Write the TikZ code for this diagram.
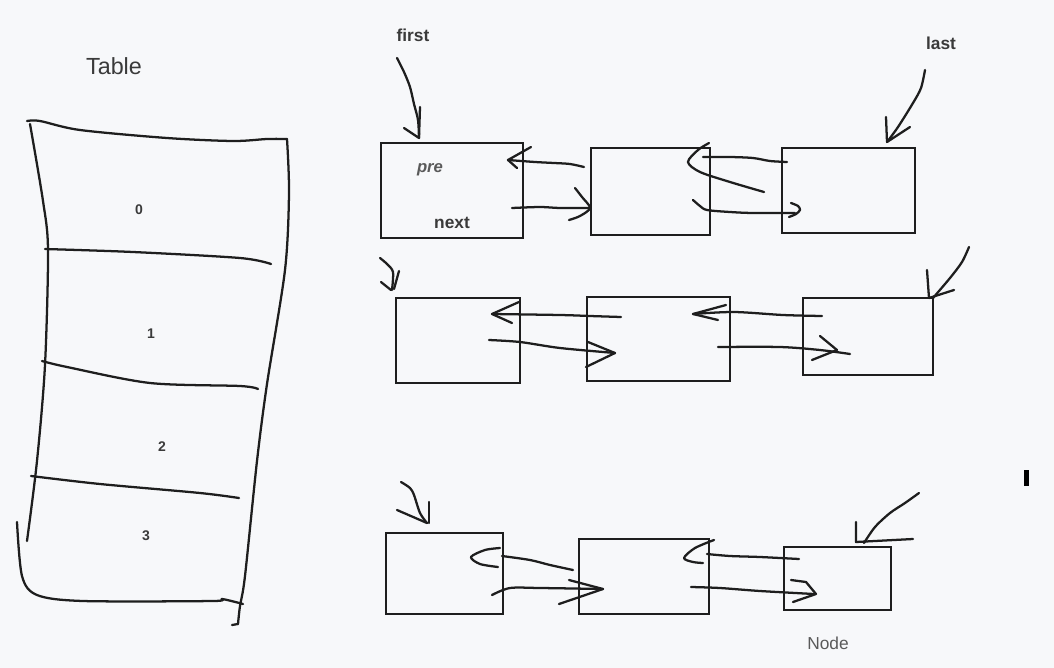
\documentclass[tikz,border=0pt]{standalone}
\usepackage{fontspec}
\setmainfont{Liberation Sans}
\usetikzlibrary{fit}
\definecolor{bg}{HTML}{F7F8FA}
\definecolor{ink}{HTML}{1E1E1E}
\definecolor{txt}{HTML}{3A3A3A}
\definecolor{softtxt}{HTML}{5A5A5A}
\begin{document}
\begin{tikzpicture}[x=0.75pt,y=-0.75pt,
  hand/.style={draw=ink,line width=1.7pt,line cap=round,line join=round},
  box/.style={draw=ink,line width=1.9pt,inner sep=0pt,outer sep=0pt},
  lbl/.style={inner sep=0pt,text=txt,font=\bfseries\fontsize{13}{15}\selectfont},
  big/.style={inner sep=0pt,text=txt,font=\fontsize{17.5}{20}\selectfont},
  dig/.style={inner sep=0pt,text=txt,font=\bfseries\fontsize{10.5}{12}\selectfont}]
\fill[bg] (0,0) rectangle (1054,668);
\useasboundingbox (0,0) rectangle (1054,668);

% ---------- Table ----------
\node[big] (ttable) at (114,66) {Table};
\draw[hand] plot[smooth] coordinates {(27,121) (40,121) (80,130) (167,138) (233,141) (267,139) (287,139)};
\draw[hand] plot[smooth] coordinates {(287,139) (289,193) (285,270) (267,384) (257,461) (245,576) (240,606) (238,624)};
\draw[hand] (238,624) -- (232,625);
\draw[hand] plot[smooth] coordinates {(30,124) (43,201) (48,250) (45,365) (37,461) (27,541)};
\draw[hand] plot[smooth] coordinates {(17,522) (22,576) (37,595) (83,601) (213,601) (222,599) (243,604)};
\draw[hand] plot[smooth] coordinates {(45,249) (133,252) (240,258) (271,264)};
\draw[hand] plot[smooth] coordinates {(42,361) (67,367) (150,383) (240,386) (258,389)};
\draw[hand] plot[smooth] coordinates {(31,476) (100,484) (200,493) (239,498)};
\node[dig] (d0) at (139,210) {0};
\node[dig] (d1) at (151,334) {1};
\node[dig] (d2) at (162,447) {2};
\node[dig] (d3) at (146,536) {3};

% ---------- boxes ----------
\node[box,fit={(381,143) (523,238)}] (b1) {};
\node[box,fit={(591,148) (710,235)}] (b2) {};
\node[box,fit={(782,148) (915,233)}] (b3) {};
\node[box,fit={(396,298) (520,383)}] (b4) {};
\node[box,fit={(587,297) (730,381)}] (b5) {};
\node[box,fit={(803,298) (933,375)}] (b6) {};
\node[box,fit={(386,533) (503,614)}] (b7) {};
\node[box,fit={(579,539) (709,614)}] (b8) {};
\node[box,fit={(784,547) (891,610)}] (b9) {};

% ---------- labels ----------
\node[lbl] (tfirst) at (413,35) {first};
\node[lbl] (tlast) at (941,43) {last};
\node[lbl,text=softtxt,font=\bfseries\itshape\fontsize{12.5}{14}\selectfont] (tpre) at (430,170) {pre};
\node[lbl] (tnext) at (452,223) {next};
\node[inner sep=0pt,text=softtxt,font=\fontsize{13}{15}\selectfont] (tnode) at (828,643) {Node};
\fill[black] (1023.5,470) rectangle (1028.5,486);

% ---------- row 1 ----------
\draw[hand] plot[smooth] coordinates {(397,58) (404,72) (410,87) (414,104) (418,120) (419,138)};
\draw[hand] (420,107) -- (419,138) -- (404,128);
\draw[hand] plot[smooth] coordinates {(925,70) (921,88) (913,103) (898,127) (887,142)};
\draw[hand] (886,117) -- (887,142) -- (910,127);
\draw[hand] plot[smooth] coordinates {(584,167) (570,164) (554,163) (535,162) (508,160)};
\draw[hand] (531,147) -- (508,160) -- (517,168);
\draw[hand] plot[smooth] coordinates {(512,208) (540,207) (560,208) (590,208)};
\draw[hand] plot[smooth] coordinates {(575,188) (582,197) (590,208) (580,216) (569,220)};
\draw[hand] plot[smooth] coordinates {(787,162) (770,161) (753,158) (730,157) (703,157)};
\draw[hand] plot[smooth] coordinates {(709,143) (698,150) (688,162) (700,172) (730,182) (764,192)};
\draw[hand] plot[smooth] coordinates {(693,200) (700,206) (707,210) (730,212) (753,213) (795,213)};
\draw[hand] plot[smooth] coordinates {(791,203) (798,206) (800,210) (796,214) (789,217)};

% ---------- row 2 ----------
\draw[hand] plot[smooth] coordinates {(380,258) (387,264) (393,272) (392,290)};
\draw[hand] (381,282) -- (391,290);
\draw[hand] (399,271) -- (394,289);
\draw[hand] plot[smooth] coordinates {(969,247) (962,262) (950,278) (933,298)};
\draw[hand] (927,270) -- (929,298) -- (954,290);
\draw[hand] plot[smooth] coordinates {(621,317) (590,316) (560,315) (492,314)};
\draw[hand] (519,302) -- (492,314) -- (512,323);
\draw[hand] plot[smooth] coordinates {(489,340) (520,342) (560,348) (615,353)};
\draw[hand] (588,342) -- (615,353) -- (586,367);
\draw[hand] plot[smooth] coordinates {(822,316) (783,315) (734,312) (693,314)};
\draw[hand] (726,305) -- (693,314) -- (718,320);
\draw[hand] plot[smooth] coordinates {(718,347) (780,347) (820,350) (850,354)};
\draw[hand] (820,336) -- (837,350) -- (812,360);

% ---------- row 3 ----------
\draw[hand] plot[smooth] coordinates {(401,482) (410,488) (414,495) (420,513) (427,523)};
\draw[hand] (429,502) -- (429,523);
\draw[hand] (397,510) -- (427,523);
\draw[hand] plot[smooth] coordinates {(919,493) (905,503) (890,513) (875,527) (864,543)};
\draw[hand] (856,522) -- (856,542) -- (913,539);
\draw[hand] plot[smooth] coordinates {(573,570) (550,565) (530,560) (502,556)};
\draw[hand] plot[smooth] coordinates {(500,548) (485,550) (471,557) (480,564) (498,567)};
\draw[hand] plot[smooth] coordinates {(492,595) (510,588) (540,588) (603,589)};
\draw[hand] (569,580) -- (603,589) -- (559,604);
\draw[hand] plot[smooth] coordinates {(799,559) (760,557) (730,556) (707,554)};
\draw[hand] plot[smooth] coordinates {(714,540) (695,548) (684,558) (693,562) (703,563)};
\draw[hand] plot[smooth] coordinates {(691,587) (720,588) (760,591) (814,594)};
\draw[hand] (791,580) -- (806,582) -- (816,594) -- (793,602);
\end{tikzpicture}
\end{document}
